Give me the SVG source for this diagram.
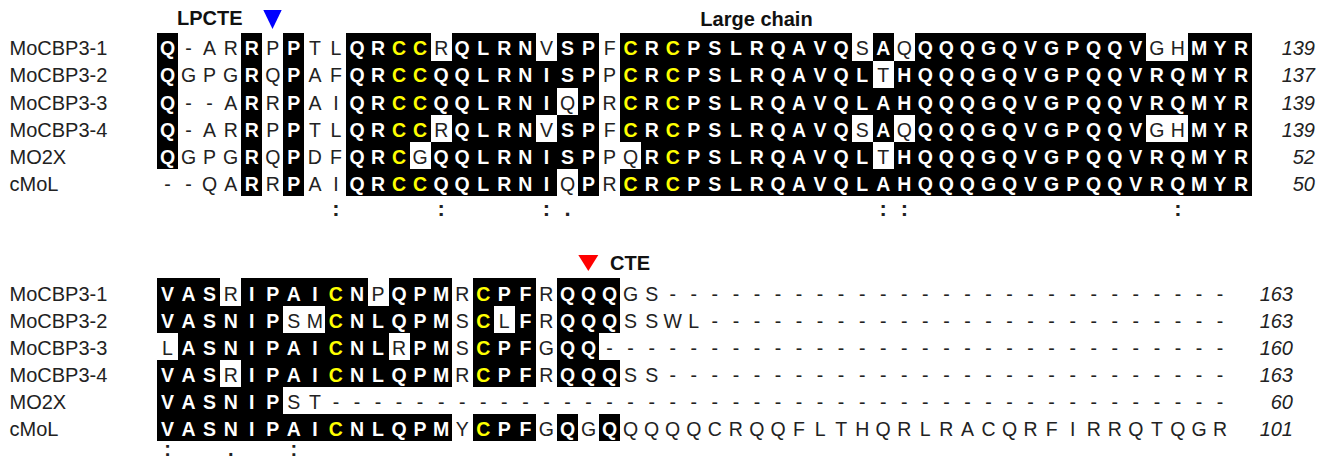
<svg xmlns="http://www.w3.org/2000/svg" width="1319" height="461" viewBox="0 0 1319 461">
<style>
text{font-family:"Liberation Sans",Arial,sans-serif;font-size:20px}
.lab{fill:#222}
.r{text-anchor:middle;font-size:19.5px}
.k{fill:#222}
.w{fill:#fff;font-weight:bold}
.y{fill:#ffff00;font-weight:bold}
.num{font-style:italic;text-anchor:end;fill:#222}
.hd{font-weight:bold;fill:#111}
.cons{font-size:22px;font-weight:bold;text-anchor:middle;fill:#222}
.consb{font-size:20px;font-weight:bold;text-anchor:middle;fill:#222}
.sh{fill:#000;shape-rendering:crispEdges}
.cut{fill:#fff;shape-rendering:crispEdges}
</style>
<rect width="1319" height="461" fill="#fff"/>

<g id="headers">
<text class="hd" x="177" y="25" font-size="19.5">LPCTE</text>
<polygon points="263.3,10 281.7,10 272.5,29" fill="#0000ff"/>
<text class="hd" x="756.5" y="26" text-anchor="middle">Large chain</text>
<polygon points="578.3,255 598.3,255 588.3,271" fill="#ff0000"/>
<text class="hd" x="610" y="270" font-size="19.5">CTE</text>
</g>

<g id="names-top">
<text class="lab" x="9.5" y="55.3">MoCBP3-1</text>
<text class="lab" x="9.5" y="82.45">MoCBP3-2</text>
<text class="lab" x="9.5" y="109.6">MoCBP3-3</text>
<text class="lab" x="9.5" y="136.75">MoCBP3-4</text>
<text class="lab" x="9.5" y="163.9">MO2X</text>
<text class="lab" x="9.5" y="191.05">cMoL</text>
</g>

<g id="shading-top">
<rect class="sh" x="157" y="33.4" width="21.05" height="135.75"/>
<rect class="sh" x="241.2" y="33.4" width="21.05" height="162.9"/>
<rect class="sh" x="283.3" y="33.4" width="21.05" height="162.9"/>
<rect class="sh" x="346.45" y="33.4" width="252.6" height="162.9"/>
<rect class="sh" x="620.1" y="33.4" width="631.5" height="162.9"/>
<rect class="cut" x="430.65" y="33.4" width="21.05" height="27.15"/>
<rect class="cut" x="535.9" y="33.4" width="21.05" height="27.15"/>
<rect class="cut" x="851.65" y="33.4" width="21.05" height="27.15"/>
<rect class="cut" x="893.75" y="33.4" width="21.05" height="27.15"/>
<rect class="cut" x="1146.35" y="33.4" width="42.1" height="27.15"/>
<rect class="cut" x="872.7" y="60.55" width="21.05" height="27.15"/>
<rect class="cut" x="556.95" y="87.7" width="21.05" height="27.15"/>
<rect class="cut" x="430.65" y="114.85" width="21.05" height="27.15"/>
<rect class="cut" x="535.9" y="114.85" width="21.05" height="27.15"/>
<rect class="cut" x="851.65" y="114.85" width="21.05" height="27.15"/>
<rect class="cut" x="893.75" y="114.85" width="21.05" height="27.15"/>
<rect class="cut" x="1146.35" y="114.85" width="42.1" height="27.15"/>
<rect class="cut" x="409.6" y="142" width="21.05" height="27.15"/>
<rect class="cut" x="620.1" y="142" width="21.05" height="27.15"/>
<rect class="cut" x="872.7" y="142" width="21.05" height="27.15"/>
<rect class="cut" x="556.95" y="169.15" width="21.05" height="27.15"/>
</g>

<g id="residues-top">
<text class="r" y="55.3"><tspan class="w" x="167.5">Q</tspan><tspan class="k" x="188.6 209.6 230.7">-AR</tspan><tspan class="w" x="251.7">R</tspan><tspan class="k" x="272.8">P</tspan><tspan class="w" x="293.8">P</tspan><tspan class="k" x="314.9 335.9">TL</tspan><tspan class="w" x="357.0 378.0">QR</tspan><tspan class="y" x="399.1 420.1">CC</tspan><tspan class="k" x="441.2">R</tspan><tspan class="w" x="462.2 483.3 504.3 525.4">QLRN</tspan><tspan class="k" x="546.4">V</tspan><tspan class="w" x="567.5 588.5">SP</tspan><tspan class="k" x="609.6">F</tspan><tspan class="y" x="630.6">C</tspan><tspan class="w" x="651.7">R</tspan><tspan class="y" x="672.7">C</tspan><tspan class="w" x="693.8 714.8 735.9 756.9 778.0 799.0 820.1 841.1">PSLRQAVQ</tspan><tspan class="k" x="862.2">S</tspan><tspan class="w" x="883.2">A</tspan><tspan class="k" x="904.3">Q</tspan><tspan class="w" x="925.3 946.4 967.4 988.5 1009.5 1030.6 1051.6 1072.7 1093.7 1114.8 1135.8">QQQGQVGPQQV</tspan><tspan class="k" x="1156.9 1177.9">GH</tspan><tspan class="w" x="1199.0 1220.0 1241.1">MYR</tspan></text>

<text class="r" y="82.45"><tspan class="w" x="167.5">Q</tspan><tspan class="k" x="188.6 209.6 230.7">GPG</tspan><tspan class="w" x="251.7">R</tspan><tspan class="k" x="272.8">Q</tspan><tspan class="w" x="293.8">P</tspan><tspan class="k" x="314.9 335.9">AF</tspan><tspan class="w" x="357.0 378.0">QR</tspan><tspan class="y" x="399.1 420.1">CC</tspan><tspan class="w" x="441.2 462.2 483.3 504.3 525.4 546.4 567.5 588.5">QQLRNISP</tspan><tspan class="k" x="609.6">P</tspan><tspan class="y" x="630.6">C</tspan><tspan class="w" x="651.7">R</tspan><tspan class="y" x="672.7">C</tspan><tspan class="w" x="693.8 714.8 735.9 756.9 778.0 799.0 820.1 841.1 862.2">PSLRQAVQL</tspan><tspan class="k" x="883.2">T</tspan><tspan class="w" x="904.3 925.3 946.4 967.4 988.5 1009.5 1030.6 1051.6 1072.7 1093.7 1114.8 1135.8 1156.9 1177.9 1199.0 1220.0 1241.1">HQQQGQVGPQQVRQMYR</tspan></text>

<text class="r" y="109.6"><tspan class="w" x="167.5">Q</tspan><tspan class="k" x="188.6 209.6 230.7">--A</tspan><tspan class="w" x="251.7">R</tspan><tspan class="k" x="272.8">R</tspan><tspan class="w" x="293.8">P</tspan><tspan class="k" x="314.9 335.9">AI</tspan><tspan class="w" x="357.0 378.0">QR</tspan><tspan class="y" x="399.1 420.1">CC</tspan><tspan class="w" x="441.2 462.2 483.3 504.3 525.4 546.4">QQLRNI</tspan><tspan class="k" x="567.5">Q</tspan><tspan class="w" x="588.5">P</tspan><tspan class="k" x="609.6">R</tspan><tspan class="y" x="630.6">C</tspan><tspan class="w" x="651.7">R</tspan><tspan class="y" x="672.7">C</tspan><tspan class="w" x="693.8 714.8 735.9 756.9 778.0 799.0 820.1 841.1 862.2 883.2 904.3 925.3 946.4 967.4 988.5 1009.5 1030.6 1051.6 1072.7 1093.7 1114.8 1135.8 1156.9 1177.9 1199.0 1220.0 1241.1">PSLRQAVQLAHQQQGQVGPQQVRQMYR</tspan></text>

<text class="r" y="136.75"><tspan class="w" x="167.5">Q</tspan><tspan class="k" x="188.6 209.6 230.7">-AR</tspan><tspan class="w" x="251.7">R</tspan><tspan class="k" x="272.8">P</tspan><tspan class="w" x="293.8">P</tspan><tspan class="k" x="314.9 335.9">TL</tspan><tspan class="w" x="357.0 378.0">QR</tspan><tspan class="y" x="399.1 420.1">CC</tspan><tspan class="k" x="441.2">R</tspan><tspan class="w" x="462.2 483.3 504.3 525.4">QLRN</tspan><tspan class="k" x="546.4">V</tspan><tspan class="w" x="567.5 588.5">SP</tspan><tspan class="k" x="609.6">F</tspan><tspan class="y" x="630.6">C</tspan><tspan class="w" x="651.7">R</tspan><tspan class="y" x="672.7">C</tspan><tspan class="w" x="693.8 714.8 735.9 756.9 778.0 799.0 820.1 841.1">PSLRQAVQ</tspan><tspan class="k" x="862.2">S</tspan><tspan class="w" x="883.2">A</tspan><tspan class="k" x="904.3">Q</tspan><tspan class="w" x="925.3 946.4 967.4 988.5 1009.5 1030.6 1051.6 1072.7 1093.7 1114.8 1135.8">QQQGQVGPQQV</tspan><tspan class="k" x="1156.9 1177.9">GH</tspan><tspan class="w" x="1199.0 1220.0 1241.1">MYR</tspan></text>

<text class="r" y="163.9"><tspan class="w" x="167.5">Q</tspan><tspan class="k" x="188.6 209.6 230.7">GPG</tspan><tspan class="w" x="251.7">R</tspan><tspan class="k" x="272.8">Q</tspan><tspan class="w" x="293.8">P</tspan><tspan class="k" x="314.9 335.9">DF</tspan><tspan class="w" x="357.0 378.0">QR</tspan><tspan class="y" x="399.1">C</tspan><tspan class="k" x="420.1">G</tspan><tspan class="w" x="441.2 462.2 483.3 504.3 525.4 546.4 567.5 588.5">QQLRNISP</tspan><tspan class="k" x="609.6 630.6">PQ</tspan><tspan class="w" x="651.7">R</tspan><tspan class="y" x="672.7">C</tspan><tspan class="w" x="693.8 714.8 735.9 756.9 778.0 799.0 820.1 841.1 862.2">PSLRQAVQL</tspan><tspan class="k" x="883.2">T</tspan><tspan class="w" x="904.3 925.3 946.4 967.4 988.5 1009.5 1030.6 1051.6 1072.7 1093.7 1114.8 1135.8 1156.9 1177.9 1199.0 1220.0 1241.1">HQQQGQVGPQQVRQMYR</tspan></text>

<text class="r" y="191.05"><tspan class="k" x="167.5 188.6 209.6 230.7">--QA</tspan><tspan class="w" x="251.7">R</tspan><tspan class="k" x="272.8">R</tspan><tspan class="w" x="293.8">P</tspan><tspan class="k" x="314.9 335.9">AI</tspan><tspan class="w" x="357.0 378.0">QR</tspan><tspan class="y" x="399.1 420.1">CC</tspan><tspan class="w" x="441.2 462.2 483.3 504.3 525.4 546.4">QQLRNI</tspan><tspan class="k" x="567.5">Q</tspan><tspan class="w" x="588.5">P</tspan><tspan class="k" x="609.6">R</tspan><tspan class="y" x="630.6">C</tspan><tspan class="w" x="651.7">R</tspan><tspan class="y" x="672.7">C</tspan><tspan class="w" x="693.8 714.8 735.9 756.9 778.0 799.0 820.1 841.1 862.2 883.2 904.3 925.3 946.4 967.4 988.5 1009.5 1030.6 1051.6 1072.7 1093.7 1114.8 1135.8 1156.9 1177.9 1199.0 1220.0 1241.1">PSLRQAVQLAHQQQGQVGPQQVRQMYR</tspan></text>
</g>

<g id="numbers-top">
<text class="num" x="1315" y="55.3">139</text>
<text class="num" x="1315" y="82.45">137</text>
<text class="num" x="1315" y="109.6">139</text>
<text class="num" x="1315" y="136.75">139</text>
<text class="num" x="1315" y="163.9">52</text>
<text class="num" x="1315" y="191.05">50</text>
</g>

<g id="conservation-top">
<text class="cons" y="216" x="335.9 441.2 546.4">:::</text>
<text class="cons" y="216" x="567.5">.</text>
<text class="cons" y="216" x="883.2 904.3 1177.9">:::</text>
</g>

<g id="names-bottom">
<text class="lab" x="9.5" y="300.5">MoCBP3-1</text>
<text class="lab" x="9.5" y="327.6">MoCBP3-2</text>
<text class="lab" x="9.5" y="354.7">MoCBP3-3</text>
<text class="lab" x="9.5" y="381.8">MoCBP3-4</text>
<text class="lab" x="9.5" y="408.9">MO2X</text>
<text class="lab" x="9.5" y="436">cMoL</text>
</g>

<g id="shading-bottom">
<rect class="sh" x="157" y="278.4" width="63.15" height="27.1"/>
<rect class="sh" x="241.2" y="278.4" width="126.3" height="27.1"/>
<rect class="sh" x="388.55" y="278.4" width="63.15" height="27.1"/>
<rect class="sh" x="472.75" y="278.4" width="63.15" height="27.1"/>
<rect class="sh" x="556.95" y="278.4" width="63.15" height="27.1"/>

<rect class="sh" x="157" y="305.5" width="126.3" height="27.1"/>
<rect class="sh" x="325.4" y="305.5" width="126.3" height="27.1"/>
<rect class="sh" x="472.75" y="305.5" width="21.05" height="27.1"/>
<rect class="sh" x="514.85" y="305.5" width="21.05" height="27.1"/>
<rect class="sh" x="556.95" y="305.5" width="63.15" height="27.1"/>

<rect class="sh" x="178.05" y="332.6" width="210.5" height="27.1"/>
<rect class="sh" x="409.6" y="332.6" width="42.1" height="27.1"/>
<rect class="sh" x="472.75" y="332.6" width="63.15" height="27.1"/>
<rect class="sh" x="556.95" y="332.6" width="42.1" height="27.1"/>

<rect class="sh" x="157" y="359.7" width="63.15" height="27.1"/>
<rect class="sh" x="241.2" y="359.7" width="210.5" height="27.1"/>
<rect class="sh" x="472.75" y="359.7" width="63.15" height="27.1"/>
<rect class="sh" x="556.95" y="359.7" width="63.15" height="27.1"/>

<rect class="sh" x="157" y="386.8" width="126.3" height="27.1"/>

<rect class="sh" x="157" y="413.9" width="294.7" height="27.1"/>
<rect class="sh" x="472.75" y="413.9" width="63.15" height="27.1"/>
<rect class="sh" x="556.95" y="413.9" width="21.05" height="27.1"/>
<rect class="sh" x="599.05" y="413.9" width="21.05" height="27.1"/>
</g>

<g id="residues-bottom">
<text class="r" y="300.5"><tspan class="w" x="167.5 188.6 209.6">VAS</tspan><tspan class="k" x="230.7">R</tspan><tspan class="w" x="251.7 272.8 293.8 314.9">IPAI</tspan><tspan class="y" x="335.9">C</tspan><tspan class="w" x="357.0">N</tspan><tspan class="k" x="378.0">P</tspan><tspan class="w" x="399.1 420.1 441.2">QPM</tspan><tspan class="k" x="462.2">R</tspan><tspan class="y" x="483.3">C</tspan><tspan class="w" x="504.3 525.4">PF</tspan><tspan class="k" x="546.4">R</tspan><tspan class="w" x="567.5 588.5 609.6">QQQ</tspan><tspan class="k" x="630.6 651.7 672.7 693.8 714.8 735.9 756.9 778.0 799.0 820.1 841.1 862.2 883.2 904.3 925.3 946.4 967.4 988.5 1009.5 1030.6 1051.6 1072.7 1093.7 1114.8 1135.8 1156.9 1177.9 1199.0 1220.0">GS---------------------------</tspan></text>

<text class="r" y="327.6"><tspan class="w" x="167.5 188.6 209.6 230.7 251.7 272.8">VASNIP</tspan><tspan class="k" x="293.8 314.9">SM</tspan><tspan class="y" x="335.9">C</tspan><tspan class="w" x="357.0 378.0 399.1 420.1 441.2">NLQPM</tspan><tspan class="k" x="462.2">S</tspan><tspan class="y" x="483.3">C</tspan><tspan class="k" x="504.3">L</tspan><tspan class="w" x="525.4">F</tspan><tspan class="k" x="546.4">R</tspan><tspan class="w" x="567.5 588.5 609.6">QQQ</tspan><tspan class="k" x="630.6 651.7 672.7 693.8 714.8 735.9 756.9 778.0 799.0 820.1 841.1 862.2 883.2 904.3 925.3 946.4 967.4 988.5 1009.5 1030.6 1051.6 1072.7 1093.7 1114.8 1135.8 1156.9 1177.9 1199.0 1220.0">SSWL-------------------------</tspan></text>

<text class="r" y="354.7"><tspan class="k" x="167.5">L</tspan><tspan class="w" x="188.6 209.6 230.7 251.7 272.8 293.8 314.9">ASNIPAI</tspan><tspan class="y" x="335.9">C</tspan><tspan class="w" x="357.0 378.0">NL</tspan><tspan class="k" x="399.1">R</tspan><tspan class="w" x="420.1 441.2">PM</tspan><tspan class="k" x="462.2">S</tspan><tspan class="y" x="483.3">C</tspan><tspan class="w" x="504.3 525.4">PF</tspan><tspan class="k" x="546.4">G</tspan><tspan class="w" x="567.5 588.5">QQ</tspan><tspan class="k" x="609.6 630.6 651.7 672.7 693.8 714.8 735.9 756.9 778.0 799.0 820.1 841.1 862.2 883.2 904.3 925.3 946.4 967.4 988.5 1009.5 1030.6 1051.6 1072.7 1093.7 1114.8 1135.8 1156.9 1177.9 1199.0 1220.0">------------------------------</tspan></text>

<text class="r" y="381.8"><tspan class="w" x="167.5 188.6 209.6">VAS</tspan><tspan class="k" x="230.7">R</tspan><tspan class="w" x="251.7 272.8 293.8 314.9">IPAI</tspan><tspan class="y" x="335.9">C</tspan><tspan class="w" x="357.0 378.0 399.1 420.1 441.2">NLQPM</tspan><tspan class="k" x="462.2">R</tspan><tspan class="y" x="483.3">C</tspan><tspan class="w" x="504.3 525.4">PF</tspan><tspan class="k" x="546.4">R</tspan><tspan class="w" x="567.5 588.5 609.6">QQQ</tspan><tspan class="k" x="630.6 651.7 672.7 693.8 714.8 735.9 756.9 778.0 799.0 820.1 841.1 862.2 883.2 904.3 925.3 946.4 967.4 988.5 1009.5 1030.6 1051.6 1072.7 1093.7 1114.8 1135.8 1156.9 1177.9 1199.0 1220.0">SS---------------------------</tspan></text>

<text class="r" y="408.9"><tspan class="w" x="167.5 188.6 209.6 230.7 251.7 272.8">VASNIP</tspan><tspan class="k" x="293.8 314.9 335.9 357.0 378.0 399.1 420.1 441.2 462.2 483.3 504.3 525.4 546.4 567.5 588.5 609.6 630.6 651.7 672.7 693.8 714.8 735.9 756.9 778.0 799.0 820.1 841.1 862.2 883.2 904.3 925.3 946.4 967.4 988.5 1009.5 1030.6 1051.6 1072.7 1093.7 1114.8 1135.8 1156.9 1177.9 1199.0 1220.0">ST-------------------------------------------</tspan></text>

<text class="r" y="436"><tspan class="w" x="167.5 188.6 209.6 230.7 251.7 272.8 293.8 314.9">VASNIPAI</tspan><tspan class="y" x="335.9">C</tspan><tspan class="w" x="357.0 378.0 399.1 420.1 441.2">NLQPM</tspan><tspan class="k" x="462.2">Y</tspan><tspan class="y" x="483.3">C</tspan><tspan class="w" x="504.3 525.4">PF</tspan><tspan class="k" x="546.4">G</tspan><tspan class="w" x="567.5">Q</tspan><tspan class="k" x="588.5">G</tspan><tspan class="w" x="609.6">Q</tspan><tspan class="k" x="630.6 651.7 672.7 693.8 714.8 735.9 756.9 778.0 799.0 820.1 841.1 862.2 883.2 904.3 925.3 946.4 967.4 988.5 1009.5 1030.6 1051.6 1072.7 1093.7 1114.8 1135.8 1156.9 1177.9 1199.0 1220.0">QQQQCRQQFLTHQRLRACQRFIRRQTQGR</tspan></text>
</g>

<g id="numbers-bottom">
<text class="num" x="1293" y="300.5">163</text>
<text class="num" x="1293" y="327.6">163</text>
<text class="num" x="1293" y="354.7">160</text>
<text class="num" x="1293" y="381.8">163</text>
<text class="num" x="1293" y="408.9">60</text>
<text class="num" x="1293" y="436">101</text>
</g>

<g id="conservation-bottom">
<text class="consb" y="456.3" x="167.5">:</text>
<text class="consb" y="456.3" x="230.7">.</text>
<text class="consb" y="456.3" x="293.8">:</text>
</g>
</svg>
